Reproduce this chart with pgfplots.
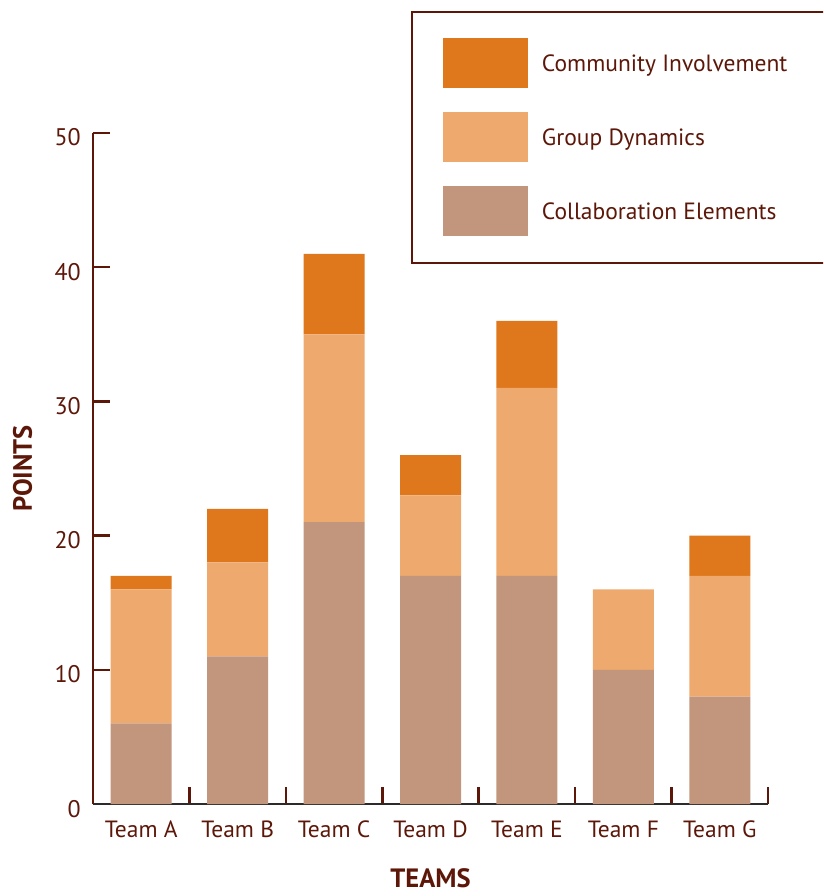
\documentclass[border=0pt]{standalone}
\usepackage{fontspec}
\setmainfont{PT Sans}
\usepackage{pgfplots}
\pgfplotsset{compat=1.18}
\definecolor{txt}{HTML}{5D1709}
\definecolor{comm}{HTML}{DF781C}
\definecolor{grp}{HTML}{EEA96E}
\definecolor{collab}{HTML}{C2957D}
\definecolor{xax}{HTML}{2E2A2A}
\pgfplotsset{mylegend/.style={legend image code/.code={\fill[##1,draw=none] (0pt,-25pt) rectangle (85pt,25pt);}}}
\begin{document}
\begin{tikzpicture}[x=1pt,y=1pt]
\path[use as bounding box] (0,0) rectangle (823,896);
\clip (0,0) rectangle (823,896);
\begin{axis}[
  at={(93pt,92pt)}, anchor=south west,
  scale only axis, width=675pt, height=671pt,
  ybar stacked, bar width=61pt,
  xmin=-0.5, xmax=6.5, ymin=0, ymax=50,
  axis lines*=left,
  x axis line style={draw=xax, line width=2.5pt},
  y axis line style={draw=txt, line width=2.5pt},
  xtick={0,1,2,3,4,5,6},
  xticklabels={Team A,Team B,Team C,Team D,Team E,Team F,Team G},
  minor xtick={0.5,1.5,2.5,3.5,4.5,5.5,6.5},
  major x tick style={draw=none},
  minor x tick style={draw=txt, line width=2.5pt},
  minor tick length=17pt,
  ytick={0,10,20,30,40,50},
  y tick style={draw=txt, line width=2.5pt},
  major tick length=17pt,
  tick align=inside,
  /pgf/number format/assume math mode=true,
  xticklabel style={font=\fontsize{23.5}{28}\selectfont, text=txt, anchor=base, yshift=-33pt, inner sep=0pt},
  yticklabel style={font=\fontsize{24}{28}\selectfont, text=txt, anchor=base east, inner sep=0pt, xshift=-12pt, yshift=-13pt},
  xlabel={TEAMS}, ylabel={POINTS},
  xlabel style={font=\bfseries\fontsize{26.5}{30}\selectfont, text=txt, inner sep=0pt, at={(axis description cs:0.5,-0.1237)}, anchor=base},
  ylabel style={font=\bfseries\fontsize{26.5}{30}\selectfont, text=txt, inner sep=0pt, at={(axis description cs:-0.0904,0.5)}, anchor=base},
  reverse legend,
  legend cell align=left,
  legend style={at={(0.4707,1.1823)}, anchor=north west, draw=txt, line width=2.5pt, fill=white,
    inner xsep=31pt, inner ysep=26.5pt, row sep=24pt, column sep=14pt,
    nodes={inner sep=0pt, text=txt, font=\fontsize{23.5}{28}\selectfont}},
]
\addplot[fill=collab, draw=none, mylegend] coordinates {(0,6) (1,11) (2,21) (3,17) (4,17) (5,10) (6,8)};
\addlegendentry{Collaboration Elements}
\addplot[fill=grp, draw=none, mylegend] coordinates {(0,10) (1,7) (2,14) (3,6) (4,14) (5,6) (6,9)};
\addlegendentry{Group Dynamics}
\addplot[fill=comm, draw=none, mylegend] coordinates {(0,1) (1,4) (2,6) (3,3) (4,5) (5,0) (6,3)};
\addlegendentry{Community Involvement\hspace*{40pt}}
\end{axis}
\end{tikzpicture}
\end{document}
